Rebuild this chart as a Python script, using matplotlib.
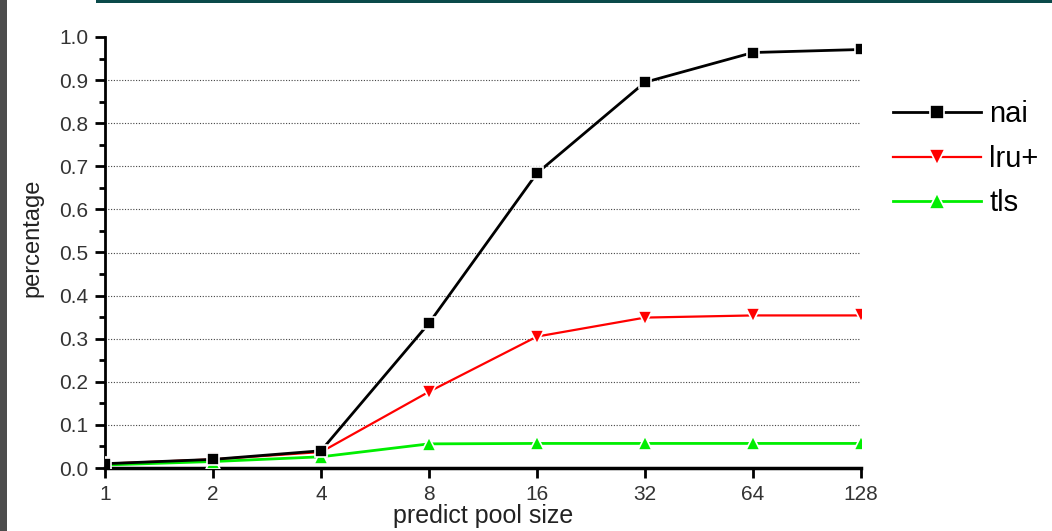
import matplotlib
matplotlib.use("Agg")
import matplotlib.pyplot as plt
from matplotlib.patches import Rectangle
from matplotlib.ticker import MultipleLocator, FixedLocator, FixedFormatter

plt.rcParams['font.family'] = ['Liberation Sans', 'DejaVu Sans']

pool_sizes = [1, 2, 4, 8, 16, 32, 64, 128]
tick_labels = ['1', '2', '4', '8', '16', '32', '64', '128']
nai = [0.010, 0.020, 0.040, 0.336, 0.684, 0.895, 0.964, 0.971]
lru_plus = [0.010, 0.020, 0.037, 0.177, 0.305, 0.349, 0.354, 0.354]
tls = [0.007, 0.015, 0.026, 0.056, 0.057, 0.057, 0.057, 0.057]

W, H = 1052, 531
fig = plt.figure(figsize=(W / 100, H / 100), dpi=100)
fig.patch.set_facecolor('white')

# frame decorations
fig.patches.append(Rectangle((0, 0), 7 / W, 1, transform=fig.transFigure,
                             facecolor='#4d4d4d', edgecolor='none', zorder=0))
fig.patches.append(Rectangle((96 / W, 1 - 3 / H), 1 - 96 / W, 3 / H,
                             transform=fig.transFigure,
                             facecolor='#0b4a4a', edgecolor='none', zorder=0))

ax = fig.add_axes([105 / W, 1 - 468 / H, (861 - 105) / W, (468 - 37) / H])

ax.set_xscale('log', base=2)
ax.set_xlim(1, 128)
ax.set_ylim(0, 1.0)

for yv in [0.1, 0.2, 0.3, 0.4, 0.5, 0.6, 0.7, 0.8, 0.9]:
    ax.axhline(yv, color='#444444', linestyle=(0, (1, 1.5)), linewidth=0.8, zorder=1)

ax.plot(pool_sizes, nai, color='black', linewidth=2, marker='s', markersize=8,
        markerfacecolor='black', markeredgecolor='white', markeredgewidth=1.2,
        label='nai', zorder=4)
ax.plot(pool_sizes, lru_plus, color='red', linewidth=1.6, marker='v', markersize=10,
        markerfacecolor='red', markeredgecolor='white', markeredgewidth=1.2,
        label='lru+', zorder=3)
ax.plot(pool_sizes, tls, color='#00ee00', linewidth=2, marker='^', markersize=10,
        markerfacecolor='#00ee00', markeredgecolor='white', markeredgewidth=1.2,
        label='tls', zorder=3)

for side in ['top', 'right']:
    ax.spines[side].set_visible(False)
ax.spines['left'].set_linewidth(2)
ax.spines['bottom'].set_linewidth(2.5)

ax.xaxis.set_major_locator(FixedLocator(pool_sizes))
ax.xaxis.set_major_formatter(FixedFormatter(tick_labels))
ax.xaxis.set_minor_locator(FixedLocator([]))
ax.yaxis.set_major_locator(MultipleLocator(0.1))
ax.yaxis.set_minor_locator(MultipleLocator(0.05))
ax.yaxis.set_major_formatter(plt.FuncFormatter(lambda v, p: f'{v:.1f}'))

ax.tick_params(axis='both', which='major', direction='out', length=7, width=2,
               labelsize=15, labelcolor='#333333', pad=5)
ax.tick_params(axis='y', which='minor', direction='out', length=4, width=2)

ax.set_ylabel('percentage', fontsize=17, color='#222222')
ax.yaxis.set_label_coords(-0.082, 0.535)
ax.set_xlabel('predict pool size', fontsize=18, color='#222222', labelpad=0)

leg = ax.legend(loc='upper left', bbox_to_anchor=(1.027, 0.88), frameon=False,
                fontsize=21, handlelength=3.0, handletextpad=0.3, labelspacing=0.56,
                borderaxespad=0, markerscale=1.2)

fig.savefig('out.png', dpi=100, facecolor='white')
